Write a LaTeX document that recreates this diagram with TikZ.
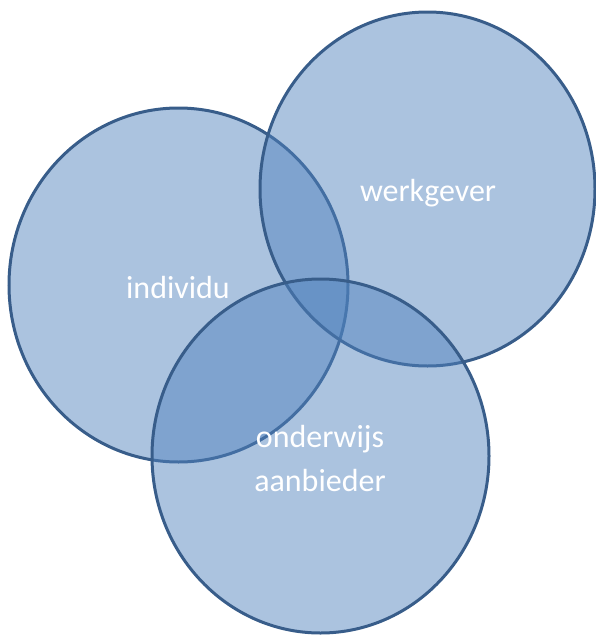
\documentclass[tikz,border=0pt]{standalone}
\usepackage{fontspec}
\setmainfont{Carlito}
\definecolor{fillblue}{HTML}{4F81BD}
\definecolor{strokeblue}{HTML}{385D8A}
\tikzset{
  venn/.style={draw=strokeblue, line width=3pt, fill=fillblue, fill opacity=0.48, draw opacity=1},
  vlabel/.style={text=white, inner sep=0pt, font=\fontsize{32}{44}\selectfont, align=center}
}
\begin{document}
\begin{tikzpicture}[x=1pt,y=-1pt]
\useasboundingbox (0,0) rectangle (596,637);
\draw[venn] (178.5,285) ellipse [x radius=169.5, y radius=177];
\draw[venn] (427.5,189) ellipse [x radius=167.5, y radius=177];
\draw[venn] (320.5,456) ellipse [x radius=168.5, y radius=177];
\node[vlabel, anchor=base] (ind) at (178,298) {individu};
\node[vlabel, anchor=base] (wg) at (428,201) {werkgever};
\node[vlabel] (oa) at (320,459) {onderwijs\\aanbieder};
\end{tikzpicture}
\end{document}
